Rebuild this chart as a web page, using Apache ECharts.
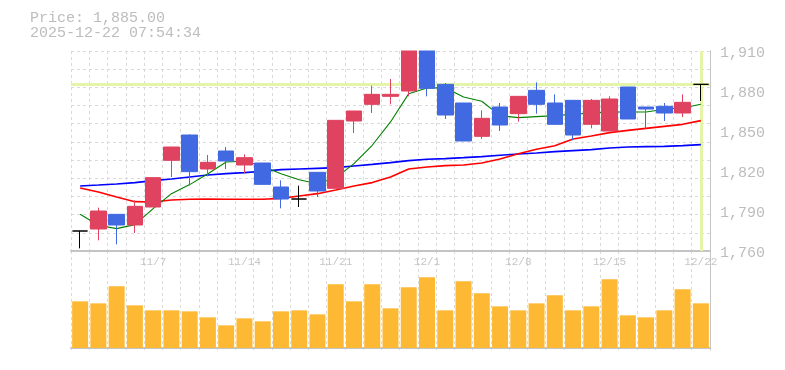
<!DOCTYPE html>
<html><head><meta charset="utf-8">
<script src="https://cdn.jsdelivr.net/npm/echarts@6/dist/echarts.min.js"></script>
<style>html,body{margin:0;padding:0;background:#fff}#c{width:785px;height:370px}</style>
</head><body><div id="c"></div>
<script>
const dates = ['10/31','11/4','11/5','11/6','11/7','11/10','11/11','11/12','11/13','11/14','11/17','11/18','11/19','11/20','11/21','11/25','11/26','11/27','11/28','12/1','12/2','12/3','12/4','12/5','12/8','12/9','12/10','12/11','12/12','12/15','12/16','12/17','12/18','12/19','12/22'];
const open  = [1775,1776.5,1787.5,1779.5,1793,1828,1847,1821.5,1835,1824.5,1826,1808,1799,1819,1807,1857.5,1870,1876,1880,1914,1885,1871,1846,1868,1863,1880.5,1871,1873,1855,1850,1883,1868,1868.5,1863.5,1885];
const close = [1775,1790,1779.5,1793.5,1815,1838,1819.5,1826.5,1827.5,1830,1810,1799,1799,1805,1858,1865,1877.5,1877.5,1912,1882,1862,1842.5,1859.5,1854.5,1876,1870,1855,1847,1873,1874,1859,1866.5,1863.5,1871.5,1885];
const low   = [1762,1768,1765,1773.5,1793,1815.5,1809,1816,1821.5,1818.5,1810,1792,1793,1800.5,1807,1848.5,1863.5,1870,1876,1876,1859,1842.5,1844,1850,1857,1863,1855,1843,1852,1850,1859,1851.5,1857.5,1860.5,1872.5];
const high  = [1775,1792.5,1787.5,1798,1815,1838,1847.5,1832,1838,1832.5,1826,1813,1809,1819,1858,1865,1884,1889,1918,1917,1886,1871,1865.5,1871,1876,1886.5,1877.5,1873,1874,1876,1883,1868,1871,1877.5,1885];
const ma5  = [1787.5,1779.3,1776.8,1779.8,1791.8,1803,1809.8,1818,1826.8,1827.3,1823.5,1818,1813.5,1810.5,1814.8,1825.5,1839.3,1856.8,1878,1882.3,1882.5,1875.5,1872.3,1861.5,1860,1860.8,1861.5,1862.5,1863.5,1864.3,1864.3,1864.3,1866.3,1867.3,1870];
const ma25 = [1807.3,1804.3,1800.5,1797,1796.8,1798.3,1798.8,1799,1798.8,1798.8,1798.8,1799.5,1801.3,1803,1805.8,1808.8,1811.3,1815.5,1821.5,1823,1824,1824.5,1826,1829,1833,1836.3,1839,1844,1846.3,1848.8,1850.5,1852,1853.5,1855,1857.8];
const ma75 = [1808.8,1809.5,1810.3,1811.3,1812.8,1814,1815.5,1817,1818,1818.8,1819.8,1821,1821.5,1822,1822.5,1823.8,1825,1826.3,1827.8,1828.8,1829.3,1830,1830.8,1831.8,1832.8,1833.5,1834.5,1835.3,1836,1837.3,1838,1838.3,1838.5,1839,1839.8];
const volume = [140,134,185,128,113,113,110,92,68,89,80,110,113,101,191,140,191,119,182,212,113,200,164,125,113,134,158,113,125,206,98,92,113,176,134];
const priceTicks = [1760,1790,1820,1850,1880,1910];
const dateTicks = ['11/7','11/14','11/21','12/1','12/8','12/15','12/22'];
const lastPrice = 1885;
const lastDate = '12/22';
const headerLines = ['Price: 1,885.00', '2025-12-22 07:54:34'];

const FONT = '"Liberation Mono","DejaVu Sans Mono",monospace';
const GRID_C = '#dadada';
const AXIS_C = '#c4c4c4';
const TEXT_C = '#bdbdbd';
const RED = '#e0435f', BLUE = '#4169e1', VOL = '#fdb934';

const chart = echarts.init(document.getElementById('c'));
const candleData = dates.map((d, i) => [open[i], close[i], low[i], high[i]]);
const dash = {color: GRID_C, type: [3, 3], width: 1};

const G = {left: 71, top: 51, width: 639, height: 200};

chart.setOption({
  animation: false,
  graphic: [
    // white mask above the price panel so candles that run past the axis top are cut off
    {type: 'rect', silent: true, z: 50, shape: {x: G.left - 1, y: 0, width: G.width + 1, height: G.top - 0.5}, style: {fill: '#ffffff'}}
  ].concat(headerLines.map((t, i) => ({
    type: 'text', x: 30, y: 18.5 + i * 15, silent: true, z: 60,
    style: {text: t, fill: TEXT_C, font: '15px ' + FONT, textVerticalAlign: 'middle'}
  }))),
  grid: [
    G,
    {left: 71, top: 251, width: 639, height: 99}
  ],
  xAxis: [
    {type: 'category', gridIndex: 0, data: dates, boundaryGap: true,
     axisLine: {show: true, lineStyle: {color: AXIS_C, width: 2}},
     axisTick: {show: false},
     axisLabel: {interval: (i, v) => dateTicks.includes(v), color: '#c6c6c6', fontFamily: FONT, fontSize: 11, margin: 6},
     splitLine: {show: true, interval: 0, lineStyle: dash}},
    {type: 'category', gridIndex: 1, data: dates, boundaryGap: true,
     axisLine: {show: true, lineStyle: {color: AXIS_C, width: 2}},
     axisTick: {show: false}, axisLabel: {show: false},
     splitLine: {show: true, interval: 0, lineStyle: dash}}
  ],
  yAxis: [
    {type: 'value', gridIndex: 0, position: 'right', min: 1760, max: 1910, scale: true,
     axisLine: {show: true, lineStyle: {color: AXIS_C, width: 1}},
     axisTick: {show: false}, splitLine: {show: false},
     axisLabel: {customValues: priceTicks, color: TEXT_C, fontFamily: FONT, fontSize: 15, margin: 10,
                 verticalAlign: 'top', lineHeight: 5, formatter: v => v.toLocaleString('en-US')}},
    {type: 'value', gridIndex: 0, position: 'left', min: 0, max: 11, interval: 1,
     axisLine: {show: false}, axisTick: {show: false}, axisLabel: {show: false},
     splitLine: {show: true, lineStyle: dash}},
    {type: 'value', gridIndex: 1, position: 'right', min: -6, max: 291,
     axisLine: {show: true, lineStyle: {color: AXIS_C, width: 1}},
     axisTick: {show: false}, axisLabel: {show: false}, splitLine: {show: false}}
  ],
  series: [
    {type: 'line', name: 'MA75', xAxisIndex: 0, yAxisIndex: 0, data: ma75, symbol: 'none', z: 2,
     lineStyle: {color: '#0000ff', width: 1.6}},
    {type: 'line', name: 'MA25', xAxisIndex: 0, yAxisIndex: 0, data: ma25, symbol: 'none', z: 2,
     lineStyle: {color: '#ff0000', width: 1.6}},
    {type: 'line', name: 'MA5', xAxisIndex: 0, yAxisIndex: 0, data: ma5, symbol: 'none', z: 2,
     lineStyle: {color: '#008000', width: 1.1}},
    {type: 'candlestick', name: 'Price', xAxisIndex: 0, yAxisIndex: 0, data: candleData, barWidth: 16, z: 3,
     itemStyle: {color: RED, color0: BLUE, borderColor: RED, borderColor0: BLUE, borderColorDoji: '#000000', borderWidth: 1},
     markLine: {silent: true, symbol: 'none', z: 1, label: {show: false}, animation: false,
                lineStyle: {color: '#e4f4a8', width: 3, type: 'solid'},
                data: [{yAxis: lastPrice}, {xAxis: lastDate}]}},
    {type: 'bar', name: 'Volume', xAxisIndex: 1, yAxisIndex: 2, data: volume, barWidth: 16,
     itemStyle: {color: VOL}}
  ]
});
</script></body></html>
